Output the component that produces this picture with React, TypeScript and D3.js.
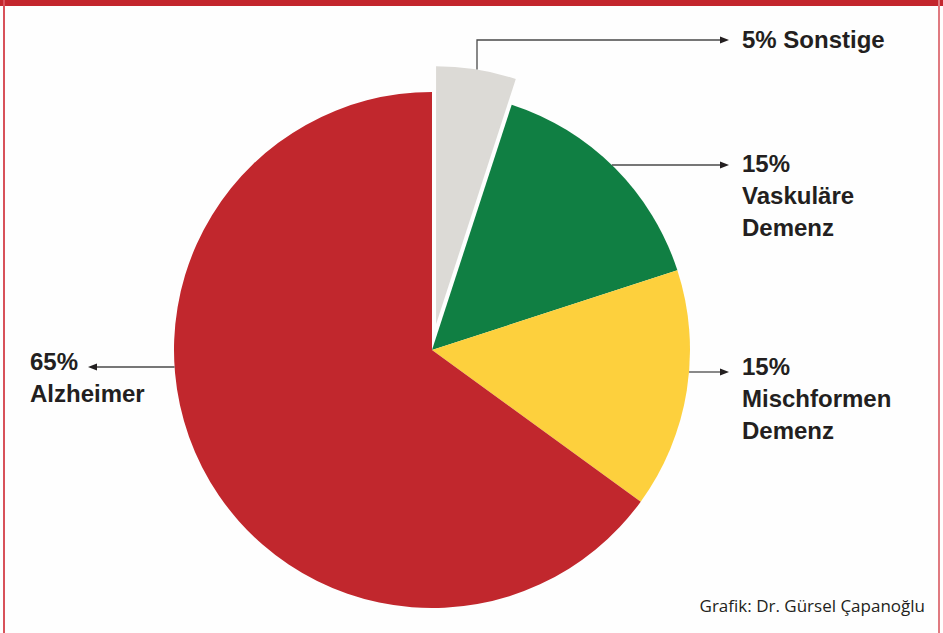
import React from 'react';
import * as d3 from 'd3';

// Anteile der Demenzformen (%)
const categories = ['Sonstige', 'Vaskuläre Demenz', 'Mischformen Demenz', 'Alzheimer'];
const values = [5, 15, 15, 65];
const colors = ['#dcdad6', '#107f43', '#fdd03d', '#c1272d'];
const labelLines = [
  ['5% Sonstige'],
  ['15%', 'Vaskuläre', 'Demenz'],
  ['15%', 'Mischformen', 'Demenz'],
  ['65%', 'Alzheimer'],
];
const credit = 'Grafik: Dr. Gürsel Çapanoğlu';

const W = 943;
const H = 633;
const cx = 432;
const cy = 350;
const R = 258;
const explode = 26;

// label layout: arrow y, first baseline, side
const labelLayout = [
  { arrowY: 40, baseY: 48, side: 'right', leader: 'vertical', leaderX: 477 },
  { arrowY: 165, baseY: 172, side: 'right' },
  { arrowY: 372, baseY: 375, side: 'right' },
  { arrowY: 367, baseY: 370, side: 'left' },
];

const textColor = '#231f20';
const lineColor = '#4a4a4a';

export default function App() {
  const pie = d3.pie<number>().sort(null).value(d => d).startAngle(0).endAngle(2 * Math.PI);
  const arcs = pie(values);
  const arc = d3.arc<d3.PieArcDatum<number>>().innerRadius(0).outerRadius(R);

  const offsets = arcs.map((a, i) => {
    if (i !== 0) return [0, 0];
    const mid = (a.startAngle + a.endAngle) / 2;
    return [explode * Math.sin(mid), -explode * Math.cos(mid)];
  });

  const arrowHead = (x: number, y: number, dir: number) => {
    const len = 9;
    const half = 3.5;
    return `M${x},${y}L${x - dir * len},${y - half}L${x - dir * len},${y + half}Z`;
  };

  const rightTip = 729;
  const rightText = 742;
  const leftTip = 88;
  const leftText = 30;
  const lineH = 32;

  return (
    <div style={{ position: 'fixed', left: 0, top: 0, width: W, height: H }}>
      <svg width={W} height={H} style={{ display: 'block' }}>
        <rect x={0} y={0} width={W} height={H} fill="#fefefe" />
        {/* frame */}
        <rect x={0} y={0} width={W} height={6} fill="#c3262d" />
        <line x1={4} x2={4} y1={0} y2={H} stroke="#d8525a" strokeWidth={2} />
        <line x1={939} x2={939} y1={0} y2={H} stroke="#e07a80" strokeWidth={2} />

        <g transform={`translate(${cx},${cy})`}>
          {arcs.map((a, i) => (
            <path
              key={categories[i]}
              d={arc(a) || ''}
              fill={colors[i]}
              transform={`translate(${offsets[i][0]},${offsets[i][1]})`}
            />
          ))}
        </g>

        {labelLayout.map((l, i) => {
          const dir = l.side === 'right' ? 1 : -1;
          let leader;
          if (l.leader === 'vertical') {
            const ox = cx + offsets[i][0];
            const oy = cy + offsets[i][1];
            const dx = l.leaderX! - ox;
            const startY = oy - Math.sqrt(R * R - dx * dx);
            leader = (
              <path
                d={`M${l.leaderX},${startY}V${l.arrowY}H${rightTip - 8}`}
                fill="none"
                stroke={lineColor}
                strokeWidth={1.3}
              />
            );
          } else {
            const dy = l.arrowY - cy;
            const sx = cx + dir * Math.sqrt(R * R - dy * dy);
            const tip = dir === 1 ? rightTip : leftTip;
            leader = (
              <line x1={sx} x2={tip - dir * 8} y1={l.arrowY} y2={l.arrowY} stroke={lineColor} strokeWidth={1.3} />
            );
          }
          const tip = dir === 1 ? rightTip : leftTip;
          return (
            <g key={categories[i]}>
              {leader}
              <path d={arrowHead(tip, l.arrowY, dir)} fill={textColor} />
              <text
                x={dir === 1 ? rightText : leftText}
                y={l.baseY}
                fill={textColor}
                fontFamily="'Liberation Sans', Arial, sans-serif"
                fontWeight="bold"
                fontSize={24}
              >
                {labelLines[i].map((t, j) => (
                  <tspan key={j} x={dir === 1 ? rightText : leftText} y={l.baseY + j * lineH}>
                    {t}
                  </tspan>
                ))}
              </text>
            </g>
          );
        })}

        <text
          x={925}
          y={612}
          textAnchor="end"
          fill={textColor}
          fontFamily="'Open Sans', sans-serif"
          fontSize={17}
        >
          {credit}
        </text>
      </svg>
    </div>
  );
}
